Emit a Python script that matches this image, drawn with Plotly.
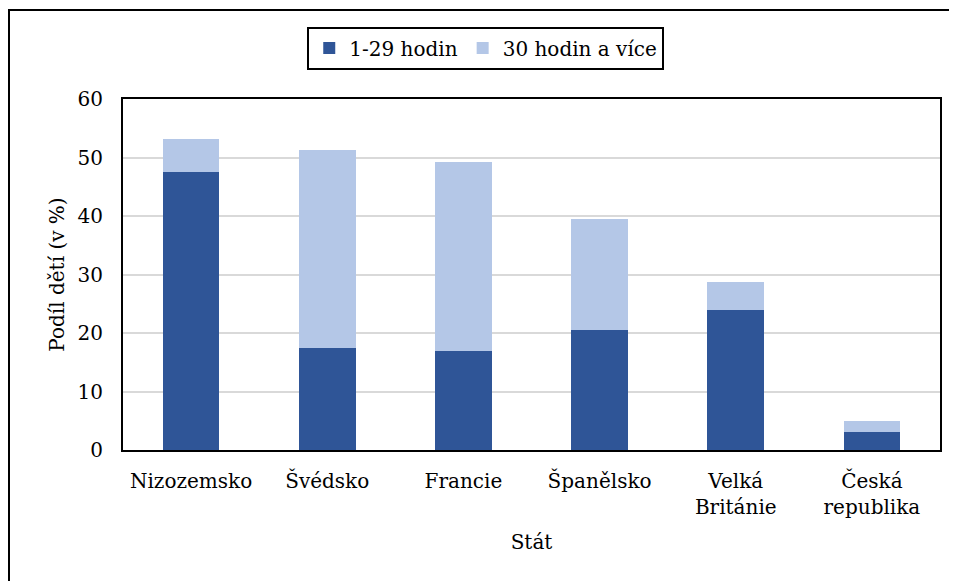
import plotly.graph_objects as go

# data
staty = ["Nizozemsko", "Švédsko", "Francie", "Španělsko", "Velká<br>Británie", "Česká<br>republika"]
hodin_1_29 = [47.6, 17.4, 17.0, 20.5, 23.9, 3.0]
hodin_30_plus = [5.6, 33.8, 32.2, 19.0, 4.8, 1.9]
y_ticks = [0, 10, 20, 30, 40, 50, 60]

# Liberation Serif does not resolve here, DejaVu Serif does
txt = dict(family="DejaVu Serif", size=20, color="black")

fig = go.Figure()
fig.add_trace(go.Bar(x=staty, y=hodin_1_29, name="1-29 hodin",
                     marker=dict(color="#2F5597", line=dict(width=0))))
fig.add_trace(go.Bar(x=staty, y=hodin_30_plus, name="30 hodin a více",
                     marker=dict(color="#B4C7E7", line=dict(width=0))))

# page body has 8px margin, so the figure is 8px smaller than the window
fig.update_layout(
    template="none",
    barmode="stack",
    bargap=0.584,
    width=949, height=573,
    margin=dict(l=115, r=17, t=91, b=131),
    paper_bgcolor="white",
    plot_bgcolor="white",
    font=txt,
    showlegend=True,
    legend=dict(orientation="h", x=0.444, y=1.145, xanchor="center", yanchor="middle",
                bordercolor="black", borderwidth=2, font=txt, bgcolor="white",
                traceorder="normal", itemwidth=30),
    xaxis=dict(title=dict(text="Stát", font=txt, standoff=17), showline=True,
               linecolor="black", linewidth=2, mirror=True, showgrid=False,
               ticks="outside", ticklen=12, tickcolor="rgba(0,0,0,0)",
               tickfont=txt, zeroline=False),
    yaxis=dict(title=dict(text="Podíl dětí (v %)", font=txt, standoff=8), range=[0, 60],
               tickvals=y_ticks, showline=True, linecolor="black", linewidth=2,
               mirror=True, showgrid=True, gridcolor="#d9d9d9", gridwidth=2,
               ticks="outside", ticklen=14, tickcolor="rgba(0,0,0,0)",
               tickfont=txt, zeroline=False),
)

# outer frame of the chart
fig.add_shape(type="rect", xref="paper", yref="paper",
              x0=(1 - 115) / 817, y0=-0.6, x1=1.1, y1=(351 + 91 - 2) / 351,
              line=dict(color="black", width=2), layer="below")

fig.write_html("out.html")
